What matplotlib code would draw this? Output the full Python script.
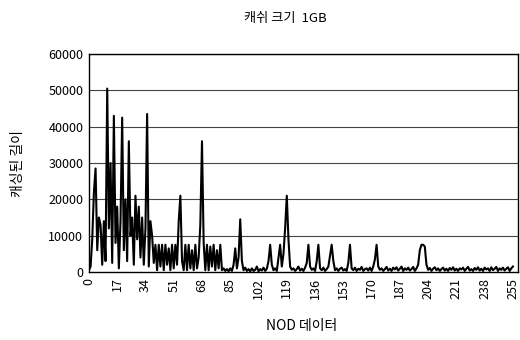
import matplotlib
matplotlib.use('Agg')
import matplotlib.pyplot as plt

plt.rcParams['font.family'] = ['Noto Sans CJK KR', 'DejaVu Sans']

# 캐싱된 길이 per NOD 데이터 index (0..255)
cached_len = [
    500, 1500, 9000, 22000, 28500, 6000, 15000, 13000, 2000, 14000, 3000, 50500, 12000, 30000, 2500, 43000,
    8000, 18000, 1000, 14000, 42500, 6000, 20000, 3000, 36000, 10000, 15000, 2000, 21000, 9000, 18000, 4000,
    15000, 2000, 12000, 43500, 1500, 14000, 10000, 2500, 7500, 500, 7500, 1500, 7500, 500, 7500, 2000,
    6500, 500, 7500, 1000, 7500, 2000, 14000, 21000, 3000, 500, 7500, 500, 7500, 1000, 6000, 500,
    7500, 1000, 4000, 13000, 36000, 8000, 500, 7500, 500, 7000, 1500, 7500, 500, 6000, 1000, 7500,
    500, 1000, 300, 800, 200, 1000, 300, 2000, 6500, 1000, 4000, 14500, 3000, 500, 1200, 300,
    800, 200, 1000, 300, 600, 1500, 200, 800, 400, 1200, 300, 900, 3000, 7500, 2000, 500,
    1000, 300, 4000, 7500, 1500, 5000, 12000, 21000, 9000, 1500, 600, 1000, 300, 800, 1500, 400,
    900, 300, 1200, 2500, 7500, 1500, 600, 1000, 300, 3000, 7500, 1000, 500, 1200, 300, 800,
    1500, 4500, 7500, 3000, 500, 1000, 300, 900, 1200, 400, 800, 300, 2500, 7500, 1000, 500,
    1200, 300, 900, 600, 1400, 300, 800, 1000, 400, 1200, 300, 1500, 3500, 7500, 1500, 600,
    1000, 300, 800, 1400, 400, 900, 300, 1200, 700, 1300, 400, 900, 1500, 300, 1000, 600,
    1200, 400, 800, 1400, 300, 1000, 2000, 6000, 7500, 7500, 7000, 2000, 600, 1100, 300, 900,
    1300, 500, 1000, 300, 800, 1200, 400, 900, 300, 1100, 600, 1300, 400, 900, 300, 1000,
    700, 1200, 300, 900, 1400, 400, 800, 300, 1100, 600, 1300, 400, 900, 300, 1200, 700,
    1000, 300, 1300, 500, 900, 1400, 300, 1000, 600, 1200, 400, 900, 1300, 300, 1000, 1500,
]
nod = list(range(len(cached_len)))
x_ticks = list(range(0, 256, 17))
y_ticks = [0, 10000, 20000, 30000, 40000, 50000, 60000]

fig = plt.figure(figsize=(5.2, 3.4), dpi=100)
ax = fig.add_axes([0.171, 0.2, 0.825, 0.641])

for yv in y_ticks[1:]:
    ax.axhline(yv, color='#444444', lw=0.8, zorder=1)

ax.plot(nod, cached_len, color='black', lw=1.5, zorder=2)

ax.set_xlim(0, 258)
ax.set_ylim(0, 60000)
ax.set_xticks(x_ticks)
ax.set_xticklabels([str(t) for t in x_ticks], rotation=90, fontsize=9)
ax.set_yticks(y_ticks)
ax.set_yticklabels([str(t) for t in y_ticks], fontsize=9)
ax.tick_params(length=0, pad=4)
for s in ax.spines.values():
    s.set_linewidth(1.0)
    s.set_color('black')

fig.text(0.548, 0.945, '캐쉬 크기  1GB', ha='center', va='center', fontsize=9.5)
fig.text(0.035, 0.52, '캐싱된 길이', ha='center', va='center', rotation=90, fontsize=10)
fig.text(0.58, 0.04, 'NOD 데이터', ha='center', va='center', fontsize=10)

plt.savefig('out.png', dpi=100)
